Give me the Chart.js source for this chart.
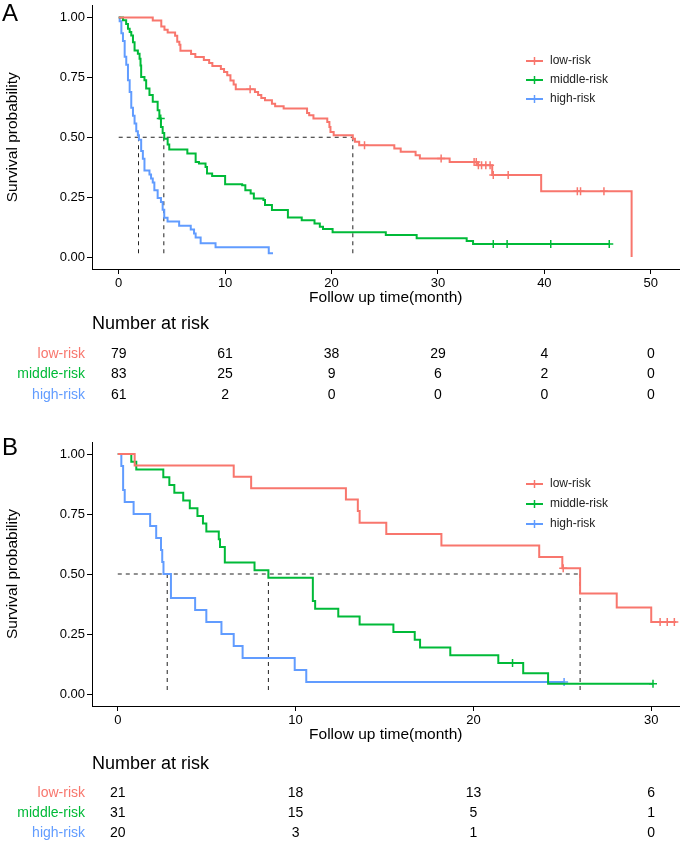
<!DOCTYPE html>
<html>
<head>
<meta charset="utf-8">
<script src="https://cdn.jsdelivr.net/npm/chart.js@4/dist/chart.umd.min.js"></script>
<style>
  html, body { margin: 0; padding: 0; background: #fff; }
  canvas { display: block; }
</style>
</head>
<body>
<canvas id="chartA" width="685" height="415"></canvas>
<canvas id="chartB" width="685" height="426"></canvas>
<script>
const groups = ["low-risk", "middle-risk", "high-risk"];
const colors = ["#F8766D", "#00BA38", "#619CFF"];
const FONT = '"Liberation Sans", Arial, sans-serif';

// ---- panel A ----
const lowTimeA = [0, 3.2, 4.0, 4.3, 4.6, 5.3, 5.5, 5.7, 5.8, 6.8, 7.2, 8.0, 8.5, 8.8, 9.6, 9.9, 10.2, 10.5, 10.8, 11.0, 12.8, 13.1, 13.4, 13.75, 14.4, 14.7, 15.5, 17.7, 17.9, 18.3, 19.6, 19.8, 19.9, 20.2, 22.0, 22.2, 22.6, 25.9, 26.5, 27.9, 28.3, 31.1, 33.7, 35.1, 39.7, 48.2];
const lowSurvA = [1, 0.987, 0.962, 0.949, 0.937, 0.924, 0.899, 0.886, 0.861, 0.848, 0.835, 0.823, 0.81, 0.797, 0.785, 0.772, 0.759, 0.737, 0.72, 0.70, 0.689, 0.676, 0.664, 0.654, 0.64, 0.629, 0.62, 0.601, 0.592, 0.578, 0.564, 0.543, 0.522, 0.508, 0.494, 0.481, 0.467, 0.453, 0.439, 0.425, 0.411, 0.397, 0.383, 0.342, 0.275, 0];
const lowCensorA = [12.35, 23.1, 30.3, 33.4, 33.6, 33.8, 34.1, 34.5, 34.9, 35.2, 36.6, 43.1, 43.4, 45.6];

const midTimeA = [0, 0.4, 0.7, 0.87, 1.03, 1.18, 1.34, 1.49, 1.8, 1.96, 2.05, 2.11, 2.42, 2.58, 2.89, 3.2, 3.66, 3.82, 3.97, 4.13, 4.28, 4.6, 4.75, 6.45, 7.23, 7.54, 8.16, 8.3, 8.78, 10.0, 11.6, 11.9, 12.4, 12.7, 13.6, 13.75, 14.4, 15.9, 17.2, 18.4, 18.9, 19.2, 20.1, 25.1, 28.0, 32.7, 33.3, 46.1];
const midSurvA = [1, 0.988, 0.973, 0.953, 0.939, 0.925, 0.897, 0.862, 0.849, 0.828, 0.8, 0.752, 0.738, 0.703, 0.676, 0.648, 0.613, 0.578, 0.543, 0.518, 0.494, 0.47, 0.449, 0.432, 0.397, 0.39, 0.376, 0.349, 0.338, 0.304, 0.3, 0.279, 0.265, 0.244, 0.238, 0.217, 0.196, 0.165, 0.154, 0.14, 0.126, 0.117, 0.103, 0.092, 0.078, 0.067, 0.054, 0.054];
const midCensorA = [3.95, 35.2, 36.5, 40.6, 46.1];

const highTimeA = [0, 0.09, 0.25, 0.4, 0.56, 0.71, 0.87, 1.03, 1.18, 1.34, 1.49, 1.65, 1.8, 1.9, 2.11, 2.27, 2.42, 2.89, 3.04, 3.2, 3.35, 3.66, 3.97, 4.13, 4.28, 4.59, 5.68, 6.77, 7.08, 7.23, 7.7, 9.1, 14.1, 14.5];
const highSurvA = [1, 0.984, 0.934, 0.902, 0.836, 0.803, 0.738, 0.689, 0.623, 0.59, 0.557, 0.525, 0.508, 0.49, 0.443, 0.41, 0.361, 0.344, 0.328, 0.311, 0.279, 0.246, 0.23, 0.197, 0.164, 0.148, 0.131, 0.115, 0.098, 0.082, 0.057, 0.041, 0.016, 0.016];
const highCensorA = [];

const mediansA = [22.0, 4.24, 1.86];
const xTicksA = [0, 10, 20, 30, 40, 50];
const riskTimesA = [0, 10, 20, 30, 40, 50];
const riskLowA = [79, 61, 38, 29, 4, 0];
const riskMidA = [83, 25, 9, 6, 2, 0];
const riskHighA = [61, 2, 0, 0, 0, 0];

// ---- panel B ----
const lowTimeB = [0, 0.95, 6.52, 7.5, 12.83, 13.5, 13.6, 15.1, 18.2, 23.7, 25.0, 26.0, 28.06, 30.0, 31.4];
const lowSurvB = [1, 0.952, 0.905, 0.857, 0.81, 0.762, 0.714, 0.667, 0.619, 0.571, 0.524, 0.419, 0.36, 0.3, 0.3];
const lowCensorB = [25.05, 30.5, 30.9, 31.3];

const midTimeB = [0, 0.76, 1.04, 2.56, 2.9, 3.18, 3.68, 4.05, 4.48, 4.79, 4.98, 5.68, 5.75, 6.02, 7.69, 8.47, 10.97, 11.1, 12.4, 13.6, 15.5, 16.7, 17.0, 18.7, 21.4, 22.8, 24.2, 30.1];
const midSurvB = [1, 0.968, 0.935, 0.903, 0.871, 0.839, 0.806, 0.774, 0.742, 0.71, 0.677, 0.645, 0.613, 0.548, 0.516, 0.484, 0.387, 0.355, 0.323, 0.29, 0.258, 0.226, 0.194, 0.161, 0.129, 0.086, 0.043, 0.043];
const midCensorB = [22.2, 30.1];

const highTimeB = [0, 0.2, 0.3, 0.39, 0.89, 1.82, 2.16, 2.43, 2.5, 2.57, 2.99, 4.35, 4.98, 5.83, 6.52, 7.02, 9.95, 10.6, 25.1];
const highSurvB = [1, 0.95, 0.85, 0.8, 0.75, 0.7, 0.65, 0.6, 0.55, 0.5, 0.4, 0.35, 0.3, 0.25, 0.2, 0.15, 0.1, 0.05, 0.05];
const highCensorB = [25.1];

const mediansB = [26.0, 8.47, 2.78];
const xTicksB = [0, 10, 20, 30];
const riskTimesB = [0, 10, 20, 30];
const riskLowB = [21, 18, 13, 6];
const riskMidB = [31, 15, 5, 1];
const riskHighB = [20, 3, 1, 0];

const yTicks = [0, 0.25, 0.5, 0.75, 1];

// value of a step curve at time t
function survAt(times, surv, t) {
  let s = surv[0];
  for (let i = 0; i < times.length; i++) if (times[i] <= t) s = surv[i];
  return s;
}

function buildDatasets(times, survs, censors, medians) {
  const sets = [];
  groups.forEach((g, i) => {
    sets.push({
      label: g,
      data: times[i].map((t, j) => ({ x: t, y: survs[i][j] })),
      stepped: "before",
      borderColor: colors[i],
      borderWidth: 2,
      pointRadius: 0,
      fill: false,
    });
  });
  groups.forEach((g, i) => {
    sets.push({
      label: g + " censor",
      data: censors[i].map((t) => ({ x: t, y: survAt(times[i], survs[i], t) })),
      showLine: false,
      pointStyle: "cross",
      pointRadius: 4,
      borderColor: colors[i],
      borderWidth: 1.5,
    });
  });
  const dashed = { borderColor: "#222", borderWidth: 1, borderDash: [4, 4], pointRadius: 0, fill: false };
  sets.push(Object.assign({ label: "median h", data: [{ x: 0, y: 0.5 }, { x: Math.max(...medians), y: 0.5 }] }, dashed));
  medians.forEach((m) => {
    sets.push(Object.assign({ label: "median v", data: [{ x: m, y: 0.5 }, { x: m, y: 0 }] }, dashed));
  });
  return sets;
}

const kmExtras = {
  id: "kmExtras",
  afterDraw(chart, args, o) {
    const ctx = chart.ctx;
    const xs = chart.scales.x;
    ctx.save();
    ctx.textBaseline = "middle";
    // panel letter
    ctx.fillStyle = "#000";
    ctx.textAlign = "left";
    ctx.font = "24px " + FONT;
    ctx.fillText(o.letter, 2, o.letterY);
    // legend
    ctx.font = "12px " + FONT;
    groups.forEach((g, i) => {
      const y = o.legendY[i];
      ctx.strokeStyle = colors[i];
      ctx.lineWidth = 2;
      ctx.beginPath();
      ctx.moveTo(526, y);
      ctx.lineTo(543, y);
      ctx.stroke();
      ctx.lineWidth = 1.5;
      ctx.beginPath();
      ctx.moveTo(534.5, y - 4);
      ctx.lineTo(534.5, y + 4);
      ctx.stroke();
      ctx.fillStyle = "#222";
      ctx.fillText(g, 550, y);
    });
    // risk table
    ctx.fillStyle = "#000";
    ctx.font = "18px " + FONT;
    ctx.fillText("Number at risk", 92, o.tableTitleY);
    ctx.font = "14px " + FONT;
    o.riskRows.forEach((row, i) => {
      const y = o.tableRowY[i];
      ctx.fillStyle = colors[i];
      ctx.textAlign = "right";
      ctx.fillText(groups[i], 85, y);
      ctx.fillStyle = "#000";
      ctx.textAlign = "center";
      o.riskTimes.forEach((t, j) => ctx.fillText(String(row[j]), xs.getPixelForValue(t), y));
    });
    ctx.restore();
  },
};

function buildKM(canvasId, cfg) {
  new Chart(document.getElementById(canvasId), {
    type: "line",
    data: { datasets: buildDatasets(cfg.times, cfg.survs, cfg.censors, cfg.medians) },
    options: {
      responsive: false,
      animation: false,
      events: [],
      layout: { padding: { top: cfg.padTop, bottom: cfg.padBottom, left: 0, right: 0 } },
      plugins: {
        legend: { display: false },
        tooltip: { enabled: false },
        kmExtras: cfg.extras,
      },
      scales: {
        x: {
          type: "linear",
          min: cfg.xMin,
          max: cfg.xMax,
          afterBuildTicks: (s) => { s.ticks = cfg.xTicks.map((v) => ({ value: v })); },
          afterFit: (s) => { s.height = 38; s.paddingLeft = 0; s.paddingRight = 0; },
          grid: { drawOnChartArea: false, drawTicks: true, tickLength: 5, color: "#000" },
          border: { display: true, color: "#000", width: 1 },
          ticks: { color: "#000", padding: 2, font: { size: 13, family: FONT }, maxRotation: 0 },
          title: { display: true, text: "Follow up time(month)", color: "#000", font: { size: 15.5, family: FONT }, padding: { top: 0, bottom: 0 } },
        },
        y: {
          min: -0.05,
          max: 1.05,
          afterBuildTicks: (s) => { s.ticks = yTicks.map((v) => ({ value: v })); },
          afterFit: (s) => { s.width = 92; s.paddingTop = 0; s.paddingBottom = 0; },
          grid: { drawOnChartArea: false, drawTicks: true, tickLength: 5, color: "#000" },
          border: { display: true, color: "#000", width: 1 },
          ticks: { color: "#000", padding: 2, font: { size: 13, family: FONT }, callback: (v) => Number(v).toFixed(2) },
          title: { display: true, text: "Survival probability", color: "#000", font: { size: 15.5, family: FONT }, padding: { top: 3, bottom: 0 } },
        },
      },
    },
    plugins: [kmExtras],
  });
}

buildKM("chartA", {
  times: [lowTimeA, midTimeA, highTimeA],
  survs: [lowSurvA, midSurvA, highSurvA],
  censors: [lowCensorA, midCensorA, highCensorA],
  medians: mediansA,
  xMin: -2.51, xMax: 52.7, xTicks: xTicksA,
  padTop: 5, padBottom: 108,
  extras: {
    letter: "A", letterY: 14,
    legendY: [61, 80, 99],
    tableTitleY: 324, tableRowY: [354, 374, 395],
    riskTimes: riskTimesA, riskRows: [riskLowA, riskMidA, riskHighA],
  },
});

buildKM("chartB", {
  times: [lowTimeB, midTimeB, highTimeB],
  survs: [lowSurvB, midSurvB, highSurvB],
  censors: [lowCensorB, midCensorB, highCensorB],
  medians: mediansB,
  xMin: -1.45, xMax: 31.59, xTicks: xTicksB,
  padTop: 27, padBottom: 97,
  extras: {
    letter: "B", letterY: 33,
    legendY: [69, 89, 109],
    tableTitleY: 349, tableRowY: [378, 398, 418],
    riskTimes: riskTimesB, riskRows: [riskLowB, riskMidB, riskHighB],
  },
});
</script>
</body>
</html>
